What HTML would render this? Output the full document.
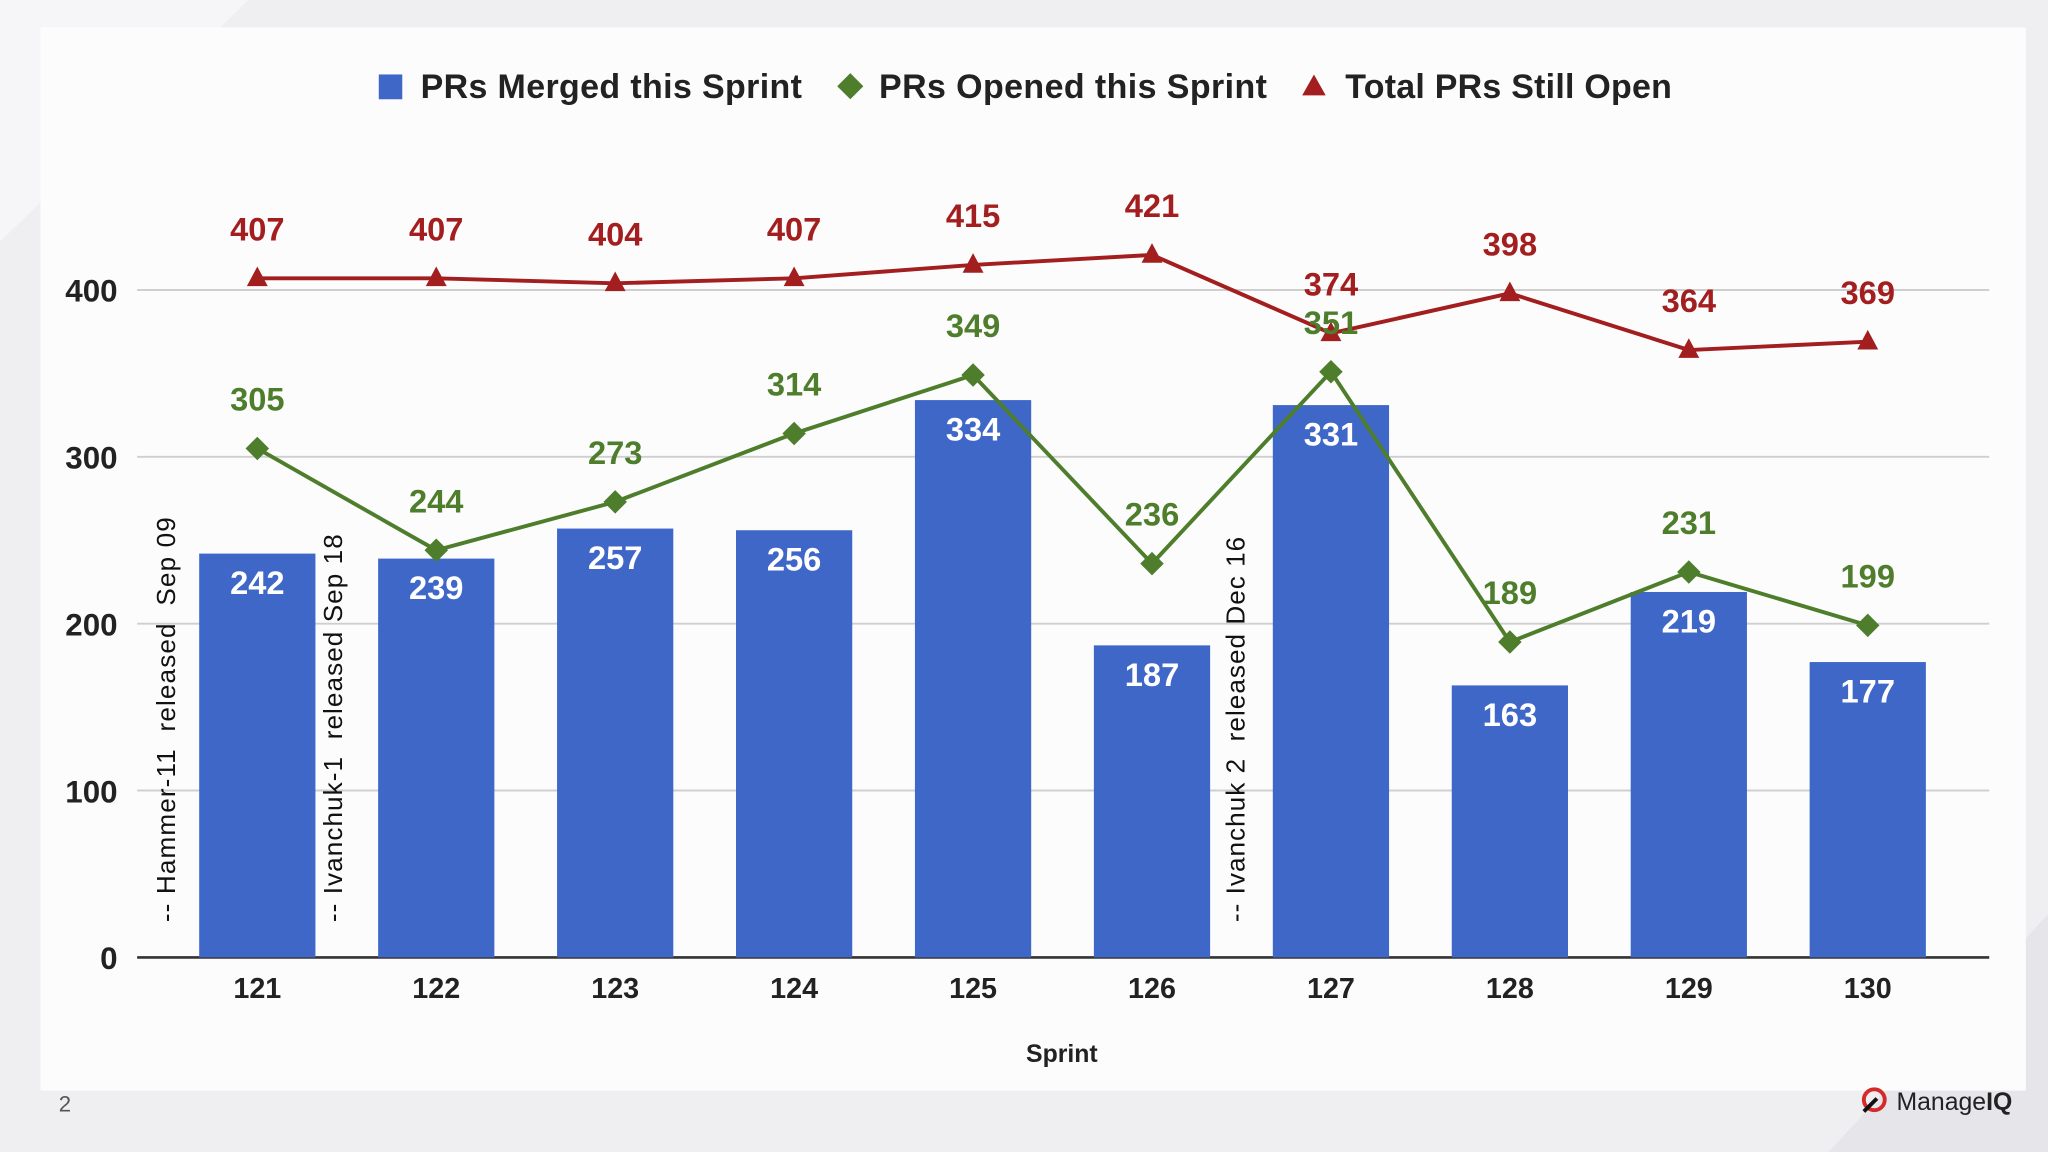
<!DOCTYPE html>
<html><head><meta charset="utf-8"><style>
html,body{margin:0;padding:0;background:#efeff2;}
svg{display:block;font-family:"Liberation Sans",Arial,sans-serif;}
</style></head><body>
<svg id="chart" width="2048" height="1152" viewBox="0 0 1568 882" xmlns="http://www.w3.org/2000/svg">
<rect x="0" y="0" width="1568" height="882" fill="#efeff2"/>
<polygon points="0,0 190,0 0,185" fill="#f6f6f8"/>
<polygon points="1400,882 1568,700 1568,882" fill="#e6e6ea"/>
<rect x="31" y="21" width="1520" height="814" fill="#fcfcfd"/>
<g id="legend" font-weight="bold" font-size="26" fill="#222">
<g><rect x="290" y="57" width="18" height="19" fill="#3f67c8"/><text x="322" y="75" textLength="292">PRs Merged this Sprint</text></g>
<g><polygon points="651,56 661,66 651,76 641,66" fill="#4e7d2c"/><text x="673" y="75" textLength="297">PRs Opened this Sprint</text></g>
<g><polygon points="1006,57 1015,73 997,73" fill="#a31e1e"/><text x="1030" y="75" textLength="250">Total PRs Still Open</text></g>
</g>
<g id="grid"></g><g id="bars"></g><g id="annot"></g><g id="lines"></g><g id="xlabels"></g>
<text x="813" y="813" text-anchor="middle" font-weight="bold" font-size="19" fill="#222">Sprint</text>
<text x="45" y="851" font-size="17" fill="#555">2</text>
<g>
<circle cx="1435" cy="842" r="8" fill="none" stroke="#d42a2a" stroke-width="3"/><line x1="1427" y1="851" x2="1437" y2="841" stroke="#111" stroke-width="3"/>
<text x="1452" y="850" font-size="19" fill="#222">Manage<tspan font-weight="bold">IQ</tspan></text></g>
</svg>
<script>
const categories=["121","122","123","124","125","126","127","128","129","130"];
const merged=[242,239,257,256,334,187,331,163,219,177];
const opened=[305,244,273,314,349,236,351,189,231,199];
const stillOpen=[407,407,404,407,415,421,374,398,364,369];
const yTicks=[0,100,200,300,400];
const NS="http://www.w3.org/2000/svg";
const x=i=>197+i*137;
const y=v=>733-v*1.2775;
function mk(tag,attrs,parent,txt){const e=document.createElementNS(NS,tag);for(const k in attrs)e.setAttribute(k,attrs[k]);if(txt!==undefined)e.textContent=txt;document.getElementById(parent).appendChild(e);return e;}
yTicks.forEach(t=>{
 const l=mk('line',{x1:105,x2:1523,y1:y(t),y2:y(t),stroke:t===0?'#333':'#cfcfcf','stroke-width':t===0?2:1.5},'grid');
 
 
 const tx=mk('text',{x:90,y:y(t)+9,'text-anchor':'end','font-weight':'bold','font-size':24,fill:'#222'},'grid',String(t));
 
 
});
categories.forEach((c,i)=>{
 const b=mk('rect',{x:x(i)-44.5,y:y(merged[i]),width:89,height:y(0)-y(merged[i]),fill:'#3f67c8'},'bars');
 
 
 const bl=mk('text',{x:x(i),y:y(merged[i])+31,'text-anchor':'middle','font-weight':'bold','font-size':25,fill:'#fff'},'bars',String(merged[i]));
 
 
 const xl=mk('text',{x:x(i),y:764,'text-anchor':'middle','font-weight':'bold','font-size':22,fill:'#222'},'xlabels',c);
 
 
});
const anns=[["-- Hammer-11  released  Sep 09",127,310],["-- Ivanchuk-1  released Sep 18",255,297],["-- Ivanchuk 2  released Dec 16",946,295]];
anns.forEach((a,k)=>{
 const t=mk('text',{x:a[1]+7,y:706,transform:`rotate(-90 ${a[1]+7} 706)`,'font-size':20,fill:'#111',textLength:a[2],'xml:space':'preserve',style:'white-space:pre'},'annot',a[0]);
 
 
});
function series(vals,color,name,shape){
 const pl=mk('polyline',{points:vals.map((v,i)=>x(i)+','+y(v)).join(' '),fill:'none',stroke:color,'stroke-width':3},'lines');
 
 
 vals.forEach((v,i)=>{
  const px=x(i),py=y(v);
  const m=shape==='d'?mk('polygon',{points:`${px},${py-9} ${px+9},${py} ${px},${py+9} ${px-9},${py}`,fill:color},'lines'):mk('polygon',{points:`${px},${py-9} ${px+8},${py+6} ${px-8},${py+6}`,fill:color},'lines');
  
  
  const t=mk('text',{x:px,y:py-29,'text-anchor':'middle','font-weight':'bold','font-size':25,fill:color},'lines',String(v));
  
  
 });
}
series(stillOpen,'#a31e1e','still-open','t');
series(opened,'#4e7d2c','opened','d');
</script>
</body></html>
